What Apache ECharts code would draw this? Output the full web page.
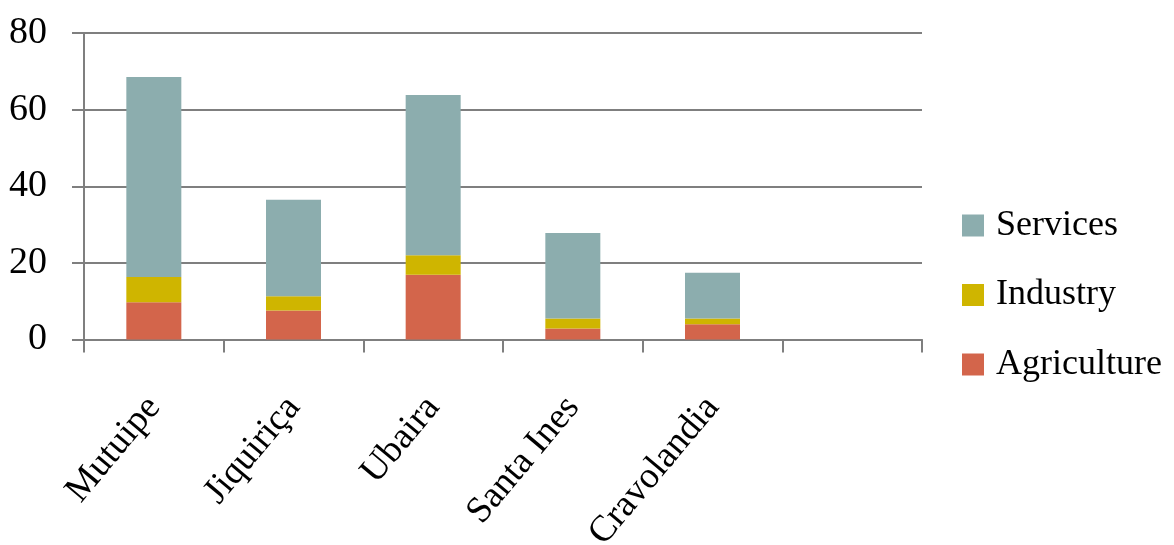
<!DOCTYPE html>
<html>
<head>
<meta charset="utf-8">
<script src="https://cdn.jsdelivr.net/npm/echarts@6/dist/echarts.min.js"></script>
<style>html,body{margin:0;padding:0;background:#fff}#c{width:1174px;height:545px}</style>
</head>
<body>
<div id="c"></div>
<script>
const categories = ['Mutuipe', 'Jiquiriça', 'Ubaira', 'Santa Ines', 'Cravolandia', ''];
const agriculture = [9.7, 7.6, 16.9, 2.9, 4.0, null];
const industry = [6.6, 3.7, 5.1, 2.6, 1.5, null];
const services = [52.2, 25.2, 41.8, 22.3, 11.9, null];
const yTicks = [0, 20, 40, 60, 80];

const FONT = '"Liberation Serif", "DejaVu Serif", serif';
const chart = echarts.init(document.getElementById('c'));
const mk = (name, data, color) => ({
  name, type: 'bar', stack: 'total', data, barWidth: 55,
  itemStyle: { color }, emphasis: { disabled: true }
});
chart.setOption({
  animation: false,
  grid: { left: 84, right: 252, top: 33, bottom: 205.5, containLabel: false, outerBoundsMode: 'none' },
  legend: {
    orient: 'vertical', left: 962, top: 205.5, padding: 0,
    data: ['Services', 'Industry', 'Agriculture'],
    itemWidth: 22, itemHeight: 22, itemGap: 29.5,
    icon: 'rect',
    textStyle: { fontFamily: FONT, fontSize: 36, color: '#000', lineHeight: 40, padding: [0, 0, 0, 7] }
  },
  xAxis: {
    type: 'category', data: categories,
    axisLine: { lineStyle: { color: '#7f7f7f', width: 2 } },
    axisTick: { show: true, interval: 0, length: 13, lineStyle: { color: '#7f7f7f', width: 2 } },
    axisLabel: {
      interval: 0, rotate: 50, margin: 62, fontFamily: FONT, fontSize: 37, color: '#000'
    }
  },
  yAxis: {
    type: 'value', min: 0, max: 80, interval: 20,
    axisLine: { show: true, lineStyle: { color: '#7f7f7f', width: 2 } },
    axisTick: { show: true, length: 12, lineStyle: { color: '#7f7f7f', width: 2 } },
    splitLine: { lineStyle: { color: '#7f7f7f', width: 2 } },
    axisLabel: {
      margin: 37, fontFamily: FONT, fontSize: 38, color: '#000',
      formatter: v => yTicks.includes(v) ? String(v) : ''
    }
  },
  series: [
    mk('Agriculture', agriculture, '#d3654b'),
    mk('Industry', industry, '#cfb500'),
    mk('Services', services, '#8cadae')
  ]
});
</script>
</body>
</html>
